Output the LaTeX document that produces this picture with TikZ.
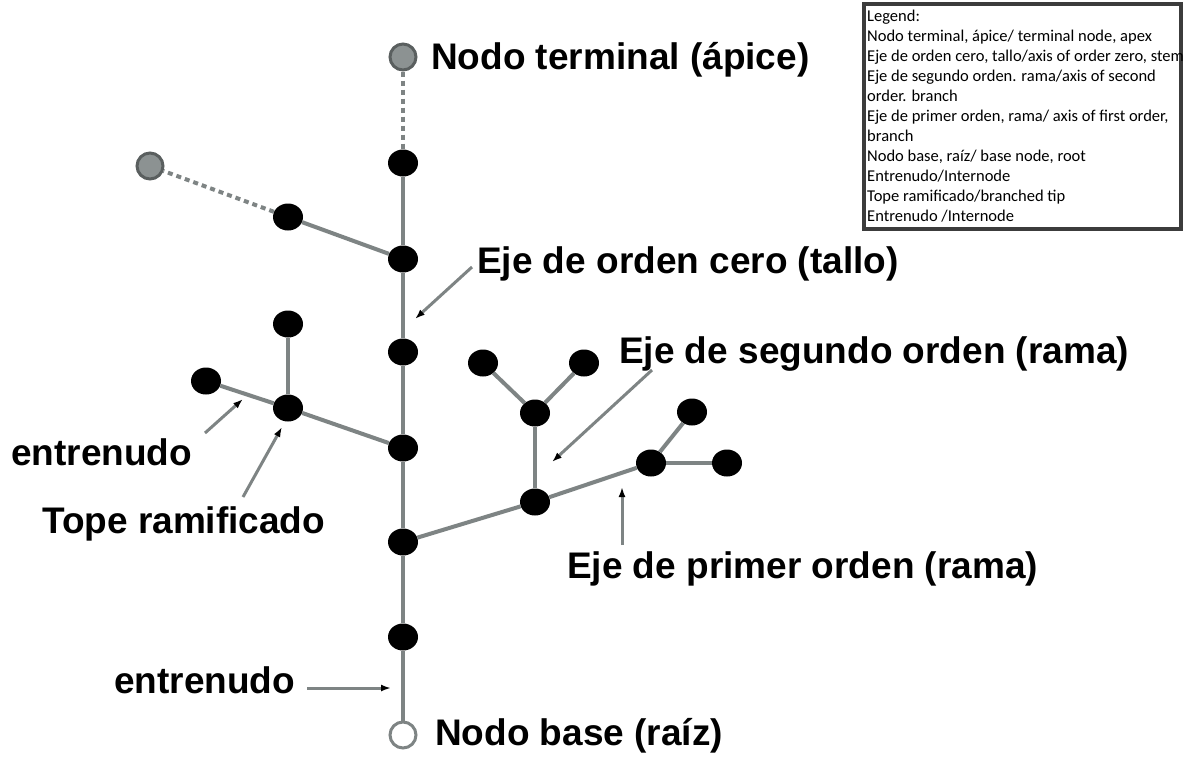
\documentclass[tikz,border=0pt]{standalone}
\usepackage{fontspec}
\setmainfont{Liberation Sans}
\newfontfamily\legfont{Carlito}
\usetikzlibrary{arrows.meta,shapes.geometric}
\definecolor{stemgray}{HTML}{7E8484}
\definecolor{apexgray}{HTML}{8C9292}
\definecolor{rimgray}{HTML}{5A5F5F}
\definecolor{boxgray}{HTML}{3C3C3C}
\begin{document}
\begin{tikzpicture}[x=1pt,y=-1pt,
  nd/.style={ellipse,minimum width=30pt,minimum height=27pt,inner sep=0pt,fill=black},
  apexnd/.style={circle,minimum size=26pt,inner sep=0pt,fill=apexgray,draw=rimgray,line width=3pt},
  basend/.style={circle,minimum size=26pt,inner sep=0pt,fill=white,draw=stemgray,line width=3pt},
  br/.style={draw=stemgray,line width=4pt},
  dotl/.style={draw=stemgray,line width=4pt,dash pattern=on 5pt off 4pt},
  lbl/.style={font=\fontsize{37}{41}\selectfont\bfseries,anchor=base west,inner sep=0pt},
  ptr/.style={draw=stemgray,line width=3pt,-{Latex[length=10pt,width=7pt,color=black]}},
  legtxt/.style={font=\legfont\fontsize{16.5}{20}\selectfont,anchor=base west,inner sep=0pt}
]
\useasboundingbox[fill=white] (0,0) rectangle (1184,756);

% stem nodes
\node[apexnd] (apex) at (403,57) {};
\node[nd] (s1) at (403,163) {};
\node[nd] (s2) at (403,259) {};
\node[nd] (s3) at (403,352) {};
\node[nd] (s4) at (403,448) {};
\node[nd] (s5) at (403,542) {};
\node[nd] (s6) at (403,637) {};
\node[basend] (base) at (403,735) {};

% upper left branch
\node[nd] (u1) at (288,217) {};
\node[apexnd] (u2) at (150,166) {};

% branched tip (tope ramificado)
\node[nd] (t0) at (288,408) {};
\node[nd] (t1) at (288,324) {};
\node[nd] (t2) at (206,381) {};

% right branch
\node[nd] (r1) at (535,502) {};
\node[nd] (r2) at (535,413) {};
\node[nd] (r3) at (483,363) {};
\node[nd] (r4) at (584,363) {};
\node[nd] (r5) at (651,463) {};
\node[nd] (r6) at (692,412) {};
\node[nd] (r7) at (727,463) {};

% connectors
\draw[dotl] (apex) -- (s1);
\draw[br] (s1) -- (s2) -- (s3) -- (s4) -- (s5) -- (s6) -- (base);
\draw[br] (s2) -- (u1);
\draw[dotl] (u1) -- (u2);
\draw[br] (s4) -- (t0);
\draw[br] (t0) -- (t1);
\draw[br] (t0) -- (t2);
\draw[br] (s5) -- (r1);
\draw[br] (r1) -- (r2);
\draw[br] (r2) -- (r3);
\draw[br] (r2) -- (r4);
\draw[br] (r1) -- (r5);
\draw[br] (r5) -- (r6);
\draw[br] (r5) -- (r7);

% labels
\node[lbl] (lapex) at (431,69) {Nodo terminal (ápice)};
\node[lbl] (lbase) at (435,745) {Nodo base (raíz)};
\node[lbl] (lcero) at (477,273) {Eje de orden cero (tallo)};
\node[lbl] (lseg) at (619,363) {Eje de segundo orden (rama)};
\node[lbl] (lprim) at (567,578) {Eje de primer orden (rama)};
\node[lbl] (lent1) at (11,465) {entrenudo};
\node[lbl] (ltope) at (42,533) {Tope ramificado};
\node[lbl] (lent2) at (114,693) {entrenudo};

% pointer arrows
\coordinate (a1s) at (472,267); \coordinate (a1e) at (415,319);
\coordinate (a2s) at (652,370); \coordinate (a2e) at (552,462);
\coordinate (a3s) at (622,545); \coordinate (a3e) at (622,487);
\coordinate (a4s) at (205,433); \coordinate (a4e) at (243,399);
\coordinate (a5s) at (243,497); \coordinate (a5e) at (282,427);
\coordinate (a6s) at (307,688); \coordinate (a6e) at (391,688);
\draw[ptr] (a1s) -- (a1e);
\draw[ptr] (a2s) -- (a2e);
\draw[ptr] (a3s) -- (a3e);
\draw[ptr] (a4s) -- (a4e);
\draw[ptr] (a5s) -- (a5e);
\draw[ptr] (a6s) -- (a6e);

% legend
\draw[boxgray,line width=3.5pt] (864,4) rectangle (1181,229);
\node[legtxt] (g0) at (867,21) {Legend:};
\node[legtxt] (g1) at (867,41) {Nodo terminal, ápice/ terminal node, apex};
\node[legtxt] (g2) at (867,61) {Eje de orden cero, tallo/axis of order zero, stem};
\node[legtxt] (g3) at (867,81) {Eje de segundo orden. rama/axis of second};
\node[legtxt] (g4) at (867,101) {order. branch};
\node[legtxt] (g5) at (867,121) {Eje de primer orden, rama/ axis of first order,};
\node[legtxt] (g6) at (867,141) {branch};
\node[legtxt] (g7) at (867,161) {Nodo base, raíz/ base node, root};
\node[legtxt] (g8) at (867,181) {Entrenudo/Internode};
\node[legtxt] (g9) at (867,201) {Tope ramificado/branched tip};
\node[legtxt] (g10) at (867,221) {Entrenudo /Internode};
\end{tikzpicture}
\end{document}
